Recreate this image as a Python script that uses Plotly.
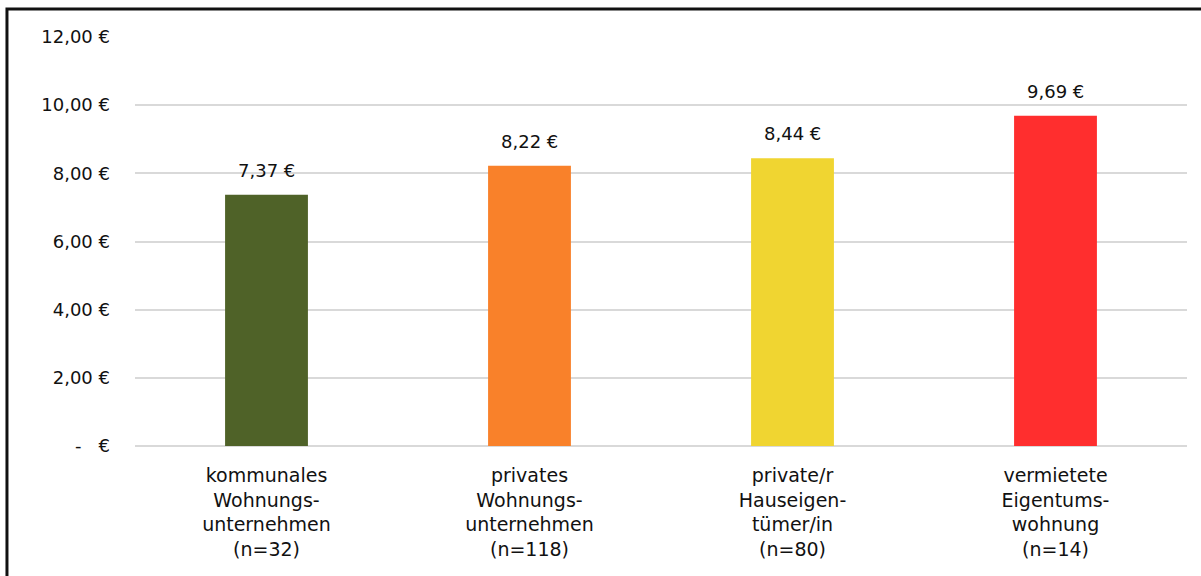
import plotly.graph_objects as go

categories = [
    "kommunales<br>Wohnungs-<br>unternehmen<br>(n=32)",
    "privates<br>Wohnungs-<br>unternehmen<br>(n=118)",
    "private/r<br>Hauseigen-<br>tümer/in<br>(n=80)",
    "vermietete<br>Eigentums-<br>wohnung<br>(n=14)",
]
rent_values = [7.37, 8.22, 8.44, 9.69]
bar_colors = ["#4F6228", "#F9812A", "#F0D531", "#FF2E2E"]
tick_values = [0, 2, 4, 6, 8, 10, 12]
tick_labels = ["-   €", "2,00 €", "4,00 €", "6,00 €", "8,00 €", "10,00 €", "12,00 €"]

def euro(v):
    return f"{v:.2f}".replace(".", ",") + " €"

FONT = "'DejaVu Sans', sans-serif"
TEXT = "#111111"

fig = go.Figure(
    go.Bar(
        x=categories,
        y=rent_values,
        marker=dict(color=bar_colors, line=dict(width=0)),
        width=0.315,
        hoverinfo="skip",
    )
)

# value labels above each bar
for cat, val in zip(categories, rent_values):
    fig.add_annotation(
        x=cat, y=val, xref="x", yref="y",
        text=euro(val),
        showarrow=False,
        yanchor="bottom",
        yshift=12,
        font=dict(size=18, color=TEXT, family=FONT),
    )

fig.update_layout(
    width=1201,
    height=576,
    margin=dict(l=135, r=14, t=37, b=130),
    paper_bgcolor="white",
    plot_bgcolor="white",
    showlegend=False,
    font=dict(family=FONT, color=TEXT, size=18),
)

fig.update_xaxes(
    showgrid=False,
    showline=False,
    ticks="",
    ticklabelstandoff=16,
    tickfont=dict(size=19, family=FONT, color=TEXT),
)

fig.update_yaxes(
    range=[0, 12],
    tickvals=tick_values,
    ticktext=tick_labels,
    showgrid=True,
    gridcolor="#D9D9D9",
    gridwidth=2,
    zeroline=True,
    zerolinecolor="#D9D9D9",
    zerolinewidth=2,
    showline=False,
    ticks="",
    ticklabelstandoff=24,
    tickfont=dict(size=18, family=FONT, color=TEXT),
)

# outer frame around the chart
fig.add_shape(
    type="rect",
    xref="paper", yref="paper",
    x0=-0.1217, x1=1.05, y0=-0.5, y1=1.0685,
    line=dict(color="#111111", width=3),
    fillcolor="rgba(0,0,0,0)",
    layer="above",
)

fig.write_html("out.html")
